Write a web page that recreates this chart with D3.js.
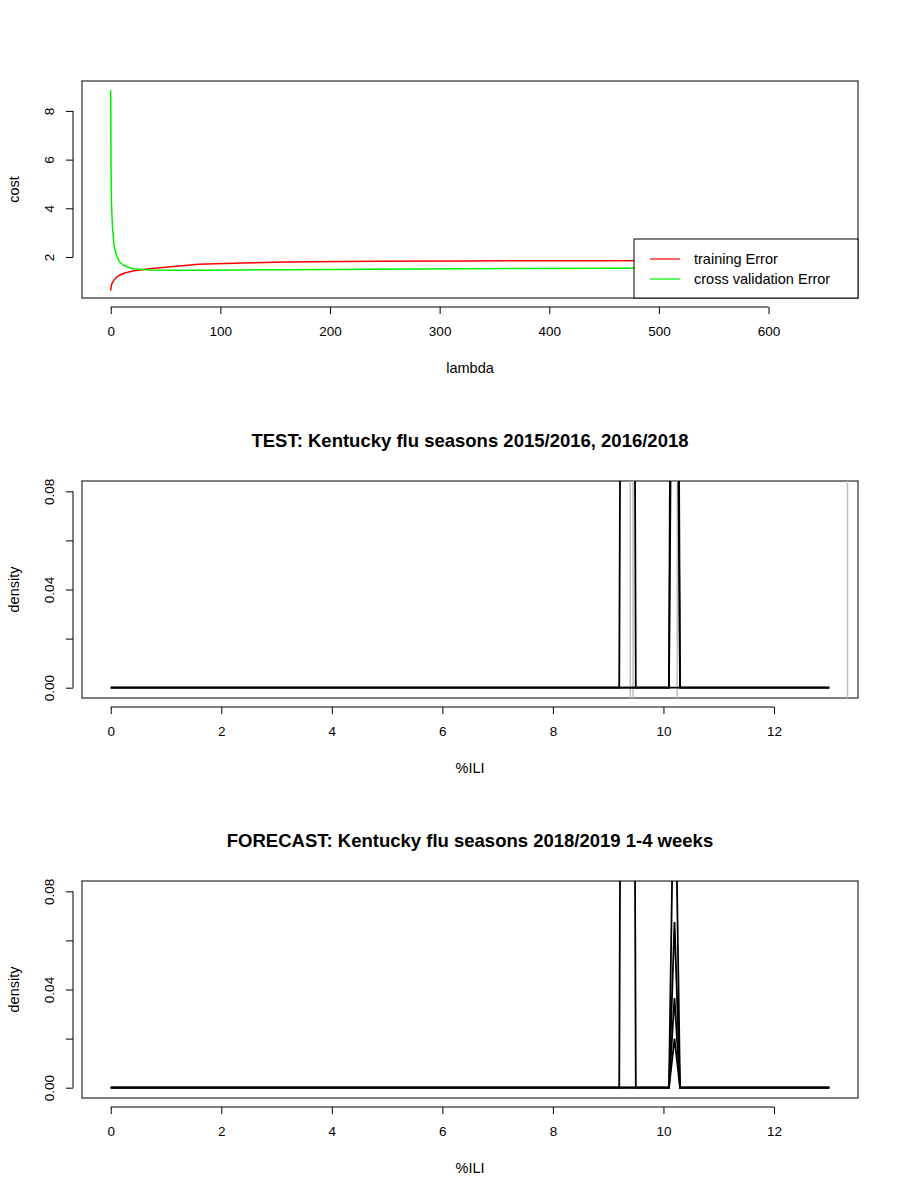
<!DOCTYPE html>
<html>
<head>
<script src="https://d3js.org/d3.v7.min.js"></script>
<style>
  body { margin: 0; background: #fff; }
  text { font-family: "Liberation Sans", Arial, sans-serif; }
  .axis text { font-size: 13.5px; fill: #000; }
  .axis line { stroke: #000; }
  .title { font-size: 18.5px; font-weight: bold; }
</style>
</head>
<body>
<svg id="chart" width="900" height="1200"></svg>
<script>
// ---- panel 1: cost vs lambda ----
const lambdas   = [0, 0.3, 0.7, 1.5, 3, 5, 8, 12, 20, 35, 60, 80, 120, 160, 240, 320, 450, 655];
const trainErr  = [0.62, 0.75, 0.85, 0.95, 1.05, 1.15, 1.25, 1.33, 1.42, 1.52, 1.62, 1.70, 1.75, 1.79, 1.82, 1.84, 1.85, 1.87];
const cvErr     = [8.85, 5.6, 4.2, 3.3, 2.5, 2.1, 1.8, 1.65, 1.52, 1.47, 1.45, 1.46, 1.47, 1.48, 1.50, 1.52, 1.54, 1.55];

// ---- panels 2/3: density vs %ILI, grid 0..13 step 0.1 ----
const iliGrid = d3.range(0, 131).map(i => i / 10);
// non-zero density points; all other grid points are 0
const testCurves = [
  {9.3: 0.6, 9.4: 0.6},
  {10.2: 0.5},
  {10.2: 0.3}
];
const testObs = [9.4, 9.45, 10.25, 13.33];
const forecastCurves = [
  {9.3: 0.6, 9.4: 0.6, 10.2: 0.15},
  {10.2: 0.0675},
  {10.2: 0.0365},
  {10.2: 0.02}
];

const svg = d3.select("#chart");

function frame(box, x, y, xTicks, yTicks, xlab, ylab, title) {
  svg.append("rect").attr("x", box.l).attr("y", box.t)
    .attr("width", box.r - box.l).attr("height", box.b - box.t)
    .attr("fill", "none").attr("stroke", "#000");
  const gx = svg.append("g").attr("class", "axis")
    .attr("transform", "translate(0," + (box.b + 9) + ")")
    .call(d3.axisBottom(x).tickValues(xTicks).tickSize(7));
  gx.select(".domain").remove();
  gx.append("line").attr("x1", x(xTicks[0])).attr("x2", x(xTicks[xTicks.length - 1]))
    .attr("stroke", "#000");
  gx.selectAll("text").attr("dy", "1.4em");
  const gy = svg.append("g").attr("class", "axis")
    .attr("transform", "translate(" + (box.l - 9) + ",0)")
    .call(d3.axisLeft(y).tickValues(yTicks.v).tickFormat(yTicks.f).tickSize(7));
  gy.select(".domain").remove();
  gy.append("line").attr("y1", y(yTicks.v[0])).attr("y2", y(yTicks.v[yTicks.v.length - 1]))
    .attr("stroke", "#000");
  gy.selectAll("text").attr("x", 0).attr("y", 0).attr("dy", null)
    .attr("transform", "translate(-19,0) rotate(-90)")
    .attr("text-anchor", "middle");
  svg.append("text").attr("x", (box.l + box.r) / 2).attr("y", box.b + 75)
    .attr("text-anchor", "middle").attr("font-size", 14.5).text(xlab);
  svg.append("text").attr("transform", "translate(19," + ((box.t + box.b) / 2) + ") rotate(-90)")
    .attr("text-anchor", "middle").attr("font-size", 14.5).text(ylab);
  if (title) svg.append("text").attr("class", "title").attr("x", (box.l + box.r) / 2)
    .attr("y", box.t - 34).attr("text-anchor", "middle").text(title);
}

// Panel 1
const b1 = {l: 82, r: 858, t: 81, b: 298};
const x1 = d3.scaleLinear().domain([-26.2, 681.6]).range([b1.l, b1.r]);
const y1 = d3.scaleLinear().domain([0.315, 9.23]).range([b1.b, b1.t]);
frame(b1, x1, y1, [0, 100, 200, 300, 400, 500, 600], {v: [2, 4, 6, 8], f: d3.format("d")}, "lambda", "cost");
const line1 = d3.line().x(d => x1(d[0])).y(d => y1(d[1]));
svg.append("path").attr("d", line1(lambdas.map((l, i) => [l, trainErr[i]])))
  .attr("fill", "none").attr("stroke", "#ff0000").attr("stroke-width", 1.5);
svg.append("path").attr("d", line1(lambdas.map((l, i) => [l, cvErr[i]])))
  .attr("fill", "none").attr("stroke", "#00ee00").attr("stroke-width", 1.5);
// legend
svg.append("rect").attr("x", 634).attr("y", 239).attr("width", 224).attr("height", 59)
  .attr("fill", "#fff").attr("stroke", "#000");
[["training Error", "#ff0000"], ["cross validation Error", "#00ee00"]].forEach((d, i) => {
  const yy = 259 + i * 20;
  svg.append("line").attr("x1", 650).attr("x2", 680).attr("y1", yy).attr("y2", yy)
    .attr("stroke", d[1]).attr("stroke-width", 1.2);
  svg.append("text").attr("x", 694).attr("y", yy + 5).attr("font-size", 14.5).text(d[0]);
});

// density panels
function densityPanel(top, curves, obs, title) {
  const box = {l: 82, r: 858, t: top, b: top + 217};
  const x = d3.scaleLinear().domain([-0.52, 13.52]).range([box.l, box.r]);
  const y = d3.scaleLinear().domain([-0.0042, 0.0842]).range([box.b, box.t]);
  frame(box, x, y, [0, 2, 4, 6, 8, 10, 12],
    {v: [0, 0.02, 0.04, 0.06, 0.08], f: d => [0, 0.04, 0.08].some(t => Math.abs(t - d) < 1e-9) ? d3.format(".2f")(d) : ""},
    "%ILI", "density", title);
  const clipId = "clip" + top;
  svg.append("clipPath").attr("id", clipId).append("rect")
    .attr("x", box.l).attr("y", box.t).attr("width", box.r - box.l).attr("height", box.b - box.t);
  const g = svg.append("g").attr("clip-path", "url(#" + clipId + ")");
  obs.forEach(o => g.append("line").attr("x1", x(o)).attr("x2", x(o))
    .attr("y1", box.t).attr("y2", box.b).attr("stroke", "#bebebe").attr("stroke-width", 1.5));
  const line = d3.line().x(d => x(d[0])).y(d => y(d[1]));
  curves.forEach(c => {
    const pts = iliGrid.map(v => [v, c[v.toFixed(1)] || 0]);
    g.append("path").attr("d", line(pts)).attr("fill", "none")
      .attr("stroke", "#000").attr("stroke-width", 1.8);
  });
}
densityPanel(481, testCurves, testObs, "TEST: Kentucky  flu seasons 2015/2016, 2016/2018");
densityPanel(881, forecastCurves, [], "FORECAST: Kentucky flu seasons 2018/2019 1-4 weeks");
</script>
</body>
</html>
